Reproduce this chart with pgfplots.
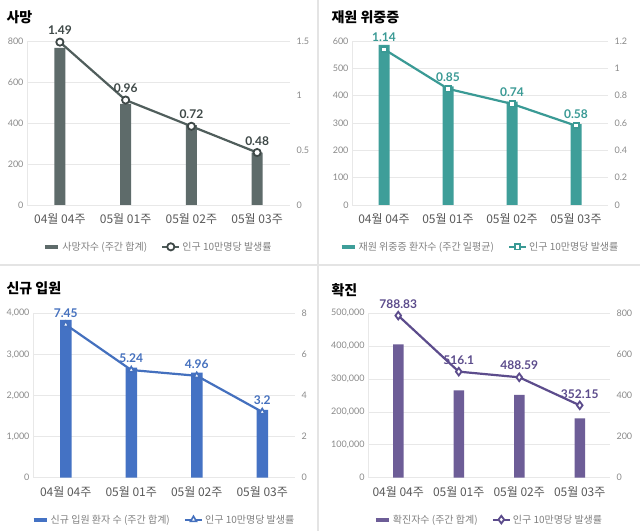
\documentclass[border=0pt]{standalone}
\usepackage{pgfplots}
\pgfplotsset{compat=1.18}
\usepackage{fontspec}
\setmainfont{Noto Sans CJK KR}
\newfontfamily\lato{Lato}
\definecolor{gridc}{HTML}{E8E8E8}
\definecolor{tickc}{HTML}{8A8A8A}
\definecolor{catc}{HTML}{5A5A5A}
\definecolor{legc}{HTML}{808080}
\definecolor{sepc}{HTML}{E4E4E4}
\definecolor{aBar}{HTML}{5E6B6A}
\definecolor{aLine}{HTML}{505E5C}
\definecolor{aLab}{HTML}{3E4847}
\definecolor{bBar}{HTML}{3E9E99}
\definecolor{bLine}{HTML}{3A9A95}
\definecolor{cBar}{HTML}{4472C4}
\definecolor{cLine}{HTML}{4470BE}
\definecolor{dBar}{HTML}{6D5D97}
\definecolor{dLine}{HTML}{5C4C8C}
\pgfplotsset{
 base/.style={scale only axis, xmin=-0.5, xmax=3.5, ymin=0, xtick={0,1,2,3},
   major tick length=0pt, /pgf/number format/assume math mode=true,
   /pgf/number format/fixed, /pgf/number format/1000 sep={,}, scaled y ticks=false, clip=false,
   yticklabel style={font=\lato\fontsize{9}{10}\selectfont, text=tickc}},
 barax/.style={base, ybar, bar width=11pt, bar shift=0pt,
   axis x line*=bottom, axis y line*=left, axis line style={draw=gridc, line width=0.8pt},
   ymajorgrids, grid style={gridc, line width=0.8pt},
   xticklabels={04월 04주,05월 01주,05월 02주,05월 03주},
   xticklabel style={font=\fontsize{12}{14}\selectfont, text=catc, yshift=-5pt}},
 lineax/.style={base, axis x line=none, axis y line*=right, y axis line style={draw=none},
   yticklabel style={xshift=3pt},
   legend style={at={(0.5,-0.255)}, anchor=center, draw=none, fill=none, legend columns=2,
     font=\fontsize{10}{12}\selectfont, text=legc, inner sep=0pt,
     /tikz/every even column/.append style={column sep=12pt}},
   legend cell align=left,
   nodes near coords, point meta=explicit symbolic,
   every node near coord/.append style={font=\lato\bfseries\fontsize{12}{14}\selectfont, anchor=south, yshift=3pt}},
}
\begin{document}
\begin{tikzpicture}
\fill[white] (0pt,0pt) rectangle (640pt,531pt);
\useasboundingbox (0pt,0pt) rectangle (640pt,531pt);
\draw[sepc, line width=2pt] (0pt,266pt) -- (640pt,266pt);
\draw[sepc, line width=1.5pt] (318pt,0pt) -- (318pt,531pt);
% titles
\node[anchor=west, font=\bfseries\fontsize{14}{16}\selectfont] at (3pt,514pt) {사망};
\node[anchor=west, font=\bfseries\fontsize{14}{16}\selectfont] at (328pt,514pt) {재원 위중증};
\node[anchor=west, font=\bfseries\fontsize{14}{16}\selectfont] at (3pt,243pt) {신규 입원};
\node[anchor=west, font=\bfseries\fontsize{14}{16}\selectfont] at (328pt,241pt) {확진};

% Panel 1
\begin{axis}[barax, at={(27pt,326pt)}, anchor=south west, width=263pt, height=164pt,
  ymax=800, ytick={0,200,400,600,800}]
\addplot[fill=aBar, draw=none] coordinates {(0,767) (1,493) (2,390) (3,255)};
\end{axis}
\begin{axis}[lineax, at={(27pt,326pt)}, anchor=south west, width=263pt, height=164pt,
  ymax=1.5, ytick={0,0.5,1,1.5}, yticklabels={0,0.5,1,1.5}]
\addlegendimage{legend image code/.code={\draw[aBar, line width=4pt] (0pt,0pt) -- (13pt,0pt);}}
\addlegendentry{사망자수 (주간 합계)}
\addplot[color=aLine, line width=2.2pt, mark=*, mark size=3.6pt,
  mark options={fill=white, draw=aLab, line width=1.8pt},
  every node near coord/.append style={text=aLab}]
  coordinates {(0,1.49) [1.49] (1,0.96) [0.96] (2,0.72) [0.72] (3,0.48) [0.48]};
\addlegendentry{인구 10만명당 발생률}
\end{axis}

% Panel 2
\begin{axis}[barax, at={(352pt,326pt)}, anchor=south west, width=256pt, height=164pt,
  ymax=600, ytick={0,100,200,300,400,500,600}]
\addplot[fill=bBar, draw=none] coordinates {(0,586) (1,434) (2,378) (3,296)};
\end{axis}
\begin{axis}[lineax, at={(352pt,326pt)}, anchor=south west, width=256pt, height=164pt,
  ymax=1.2, ytick={0,0.2,0.4,0.6,0.8,1,1.2}, yticklabels={0,0.2,0.4,0.6,0.8,1,1.2}]
\addlegendimage{legend image code/.code={\draw[bBar, line width=4pt] (0pt,0pt) -- (13pt,0pt);}}
\addlegendentry{재원 위중증 환자수 (주간 일평균)}
\addplot[color=bLine, line width=2.2pt, mark=square*, mark size=2.6pt,
  mark options={fill=white, draw=bLine, line width=1.8pt},
  every node near coord/.append style={text=bLine}]
  coordinates {(0,1.14) [1.14] (1,0.85) [0.85] (2,0.74) [0.74] (3,0.58) [0.58]};
\addlegendentry{인구 10만명당 발생률}
\end{axis}

% Panel 3
\begin{axis}[barax, at={(33pt,53.3pt)}, anchor=south west, width=262pt, height=164.4pt,
  ymax=4000, ytick={0,1000,2000,3000,4000}, bar width=11.5pt]
\addplot[fill=cBar, draw=none] coordinates {(0,3840) (1,2680) (2,2555) (3,1650)};
\end{axis}
\begin{axis}[lineax, at={(33pt,53.3pt)}, anchor=south west, width=262pt, height=164.4pt,
  ymax=8, ytick={0,2,4,6,8}]
\addlegendimage{legend image code/.code={\draw[cBar, line width=4pt] (0pt,0pt) -- (13pt,0pt);}}
\addlegendentry{신규 입원 환자 수 (주간 합계)}
\addplot[color=cLine, line width=2.2pt, mark=triangle*, mark size=3.4pt,
  mark options={fill=white, draw=cLine, line width=1.6pt},
  every node near coord/.append style={text=cLine}]
  coordinates {(0,7.45) [7.45] (1,5.24) [5.24] (2,4.96) [4.96] (3,3.2) [3.2]};
\addlegendentry{인구 10만명당 발생률}
\end{axis}

% Panel 4
\begin{axis}[barax, at={(368pt,53.3pt)}, anchor=south west, width=242pt, height=164.4pt,
  ymax=500000, ytick={0,100000,200000,300000,400000,500000}, bar width=10.5pt]
\addplot[fill=dBar, draw=none] coordinates {(0,405700) (1,265700) (2,251600) (3,180500)};
\end{axis}
\begin{axis}[lineax, at={(368pt,53.3pt)}, anchor=south west, width=242pt, height=164.4pt,
  ymax=800, ytick={0,200,400,600,800}]
\addlegendimage{legend image code/.code={\draw[dBar, line width=4pt] (0pt,0pt) -- (13pt,0pt);}}
\addlegendentry{확진자수 (주간 합계)}
\addplot[color=dLine, line width=2.2pt, mark=diamond*, mark size=3.8pt,
  mark options={fill=white, draw=dLine, line width=1.8pt},
  every node near coord/.append style={text=dLine}]
  coordinates {(0,788.83) [788.83] (1,516.1) [516.1] (2,488.59) [488.59] (3,352.15) [352.15]};
\addlegendentry{인구 10만명당 발생률}
\end{axis}
\end{tikzpicture}
\end{document}
